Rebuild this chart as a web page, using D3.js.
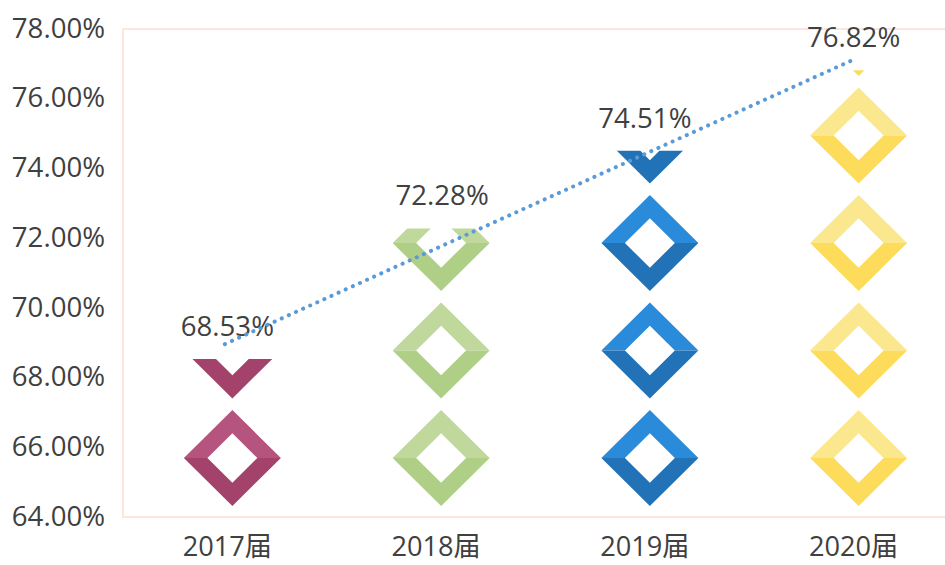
<!DOCTYPE html>
<html><head><meta charset="utf-8">
<script src="https://cdn.jsdelivr.net/npm/d3@7"></script>
<style>html,body{margin:0;padding:0;background:#fff;overflow:hidden}svg{display:block}
text{font-family:"Open Sans","Noto Sans CJK SC",sans-serif;fill:#404040}</style>
</head><body><svg id="c" width="945" height="565"></svg>
<script>
const categories = ["2017届","2018届","2019届","2020届"];
const values = [68.53,72.28,74.51,76.82];
const yTicks = [64,66,68,70,72,74,76,78];
const lightColors = ["#b5547f","#c0d89c","#2b8bdb","#fbe78e"];
const darkColors = ["#a3426b","#aecf85","#2272b8","#fcdc5a"];
const trendIndex = [-0.036,2.96];
const trendValues = [68.96,77.08];
const valueNudge = [-5,1,-5,-5];
const categoryNudge = [-5,-5,-5,-5];
const symbolStep = 3.084;   // one repeated diamond, in % units
const symbolHeight = 2.754; // visible diamond height, in % units
const symbolGapBelow = 0.316;

const svg = d3.select("#c");
const y = d3.scaleLinear().domain([64,78]).range([517,29]);
const x = d3.scaleBand().domain(categories).range([128,963]);
const idx = d3.scaleLinear().domain([0,3]).range([x(categories[0])+x.bandwidth()/2, x(categories[3])+x.bandwidth()/2]);
const halfW = 48.5, holeRatio = 0.515;
const axisColor = "#fce6dd";

// frame
const frame = d3.path();
frame.moveTo(945,y(78)); frame.lineTo(123,y(78)); frame.lineTo(123,y(64)); frame.lineTo(945,y(64));
svg.append("path").attr("d",frame.toString()).attr("fill","none").attr("stroke",axisColor).attr("stroke-width",2);

// y axis
const ay = svg.append("g").attr("transform","translate(105,0)")
  .call(d3.axisLeft(y).tickValues(yTicks).tickSize(0).tickPadding(0).tickFormat(d=>d.toFixed(2)+"%"));
ay.select(".domain").remove();
ay.attr("font-family",null);
ay.selectAll("text").attr("font-size",27.6).attr("dy","0.3em");

// x axis labels
const ax = svg.append("g").attr("transform","translate(0,556)")
  .call(d3.axisBottom(x).tickSize(0).tickPadding(0));
ax.select(".domain").remove();
ax.attr("font-family",null);
ax.selectAll("text").attr("font-size",27.2).attr("dy",0).attr("y",0)
  .attr("dx",(d,i)=>categoryNudge[i]);

// pictorial stacks
const defs = svg.append("defs");
categories.forEach((c,i)=>{
  const cx = x(c)+x.bandwidth()/2;
  const id = "clip"+i;
  defs.append("clipPath").attr("id",id).append("rect")
    .attr("x",x(c)).attr("width",x.bandwidth())
    .attr("y",y(values[i])).attr("height",y(64)-y(values[i]));
  const g = svg.append("g").attr("clip-path",`url(#${id})`);
  const n = Math.ceil((values[i]-64)/symbolStep);
  d3.range(n).forEach(k=>{
    const top = y(64+symbolGapBelow+symbolHeight+k*symbolStep);
    const bottom = y(64+symbolGapBelow+k*symbolStep);
    const mid = (top+bottom)/2, hh=(bottom-top)/2, ih=hh*holeRatio, iw=halfW*holeRatio;
    const up = d3.path();
    up.moveTo(cx-halfW,mid); up.lineTo(cx,top); up.lineTo(cx+halfW,mid);
    up.lineTo(cx+iw,mid); up.lineTo(cx,mid-ih); up.lineTo(cx-iw,mid); up.closePath();
    const dn = d3.path();
    dn.moveTo(cx-halfW,mid); dn.lineTo(cx,bottom); dn.lineTo(cx+halfW,mid);
    dn.lineTo(cx+iw,mid); dn.lineTo(cx,mid+ih); dn.lineTo(cx-iw,mid); dn.closePath();
    g.append("path").attr("d",up.toString()).attr("fill",lightColors[i]);
    g.append("path").attr("d",dn.toString()).attr("fill",darkColors[i]);
  });
});

// value labels
svg.selectAll(".v").data(values).join("text").attr("class","v")
  .attr("x",(d,i)=>x(categories[i])+x.bandwidth()/2+valueNudge[i])
  .attr("y",d=>y(d)-23)
  .attr("text-anchor","middle").attr("font-size",27.6)
  .text(d=>d.toFixed(2)+"%");

// dotted trend line
svg.append("path")
  .attr("d",d3.line().x((d,i)=>idx(trendIndex[i])).y((d,i)=>y(d))(trendValues))
  .attr("fill","none").attr("stroke","#5b9bd5").attr("stroke-width",4)
  .attr("stroke-linecap","round").attr("stroke-dasharray","0.1 7.7");
</script></body></html>
